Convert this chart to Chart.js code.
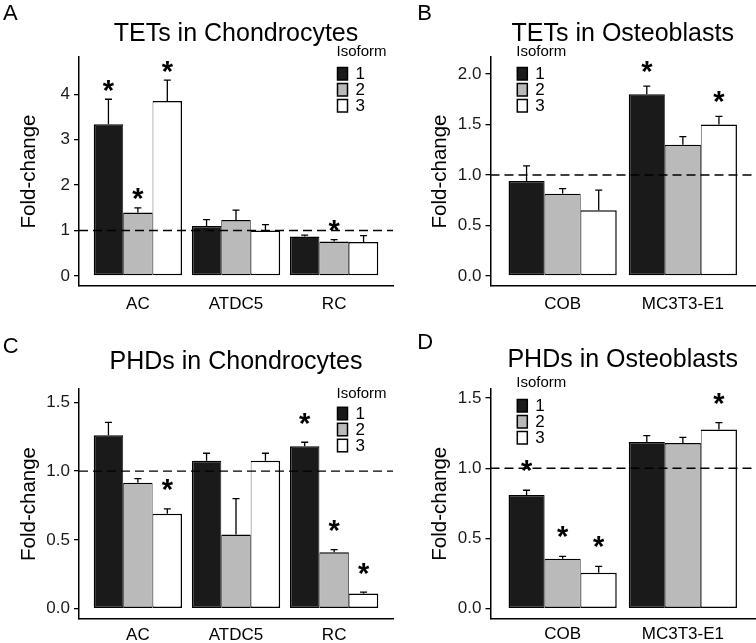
<!DOCTYPE html>
<html lang="en">
<head>
<meta charset="UTF-8">
<title>TETs and PHDs in chondrocytes and osteoblasts</title>
<script src="https://cdn.jsdelivr.net/npm/chart.js@4"></script>
<style>
  body { margin: 0; background: #fff; }
  .panel { position: absolute; }
  #pA { left: 0; top: 0; width: 400px; height: 320px; }
  #pB { left: 400px; top: 0; width: 356px; height: 320px; }
  #pC { left: 0; top: 320px; width: 400px; height: 323px; }
  #pD { left: 400px; top: 320px; width: 356px; height: 323px; }
</style>
</head>
<body>
<div class="panel" id="pA"><canvas id="cA"></canvas></div>
<div class="panel" id="pB"><canvas id="cB"></canvas></div>
<div class="panel" id="pC"><canvas id="cC"></canvas></div>
<div class="panel" id="pD"><canvas id="cD"></canvas></div>

<script>
// categories
const chondroCells = ['AC', 'ATDC5', 'RC'];
const osteoCells = ['COB', 'MC3T3-E1'];
const isoforms = ['1', '2', '3'];

// fold-change means, one row per isoform
const tetChondroMeans = [[3.34, 1.10, 0.87], [1.40, 1.23, 0.76], [3.85, 1.00, 0.75]];
const tetChondroSe    = [[0.55, 0.14, 0.03], [0.10, 0.22, 0.04], [0.46, 0.13, 0.14]];
const tetChondroStars = [[1, 0, 0], [1, 0, 1], [1, 0, 0]];

const tetOsteoMeans = [[0.94, 1.80], [0.815, 1.30], [0.65, 1.50]];
const tetOsteoSe    = [[0.15, 0.08], [0.05, 0.08], [0.20, 0.08]];
const tetOsteoStars = [[0, 1], [0, 0], [0, 1]];

const phdChondroMeans = [[1.26, 1.075, 1.18], [0.915, 0.54, 0.41], [0.69, 1.075, 0.11]];
const phdChondroSe    = [[0.095, 0.055, 0.03], [0.03, 0.26, 0.02], [0.035, 0.055, 0.01]];
const phdChondroStars = [[0, 0, 1], [0, 0, 1], [1, 0, 1]];

const phdOsteoMeans = [[0.81, 1.187], [0.356, 1.18], [0.256, 1.275]];
const phdOsteoSe    = [[0.033, 0.045], [0.017, 0.04], [0.045, 0.05]];
const phdOsteoStars = [[1, 0], [1, 0], [1, 1]];

// y axis ticks
const tetChondroYTicks = [0, 1, 2, 3, 4];
const tetChondroYLabels = ['0', '1', '2', '3', '4'];
const tetOsteoYTicks = [0, 0.5, 1, 1.5, 2];
const tetOsteoYLabels = ['0.0', '0.5', '1.0', '1.5', '2.0'];
const phdYTicks = [0, 0.5, 1, 1.5];
const phdYLabels = ['0.0', '0.5', '1.0', '1.5'];

const fills = ['#1a1a1a', '#bababa', '#ffffff'];
const sideBorders = [
  { top: 1.5, bottom: 1.5, left: 1.5, right: 0.75 },
  { top: 1.5, bottom: 1.5, left: 0.75, right: 0.75 },
  { top: 1.5, bottom: 1.5, left: 0.75, right: 1.5 }
];
const FONT = '"Liberation Sans", Arial, Helvetica, sans-serif';
Chart.defaults.font.family = FONT;
Chart.defaults.color = '#000';

function extras(p) {
  return {
    id: 'extras',
    afterDatasetsDraw(chart) {
      const ctx = chart.ctx;
      const y = chart.scales.y;
      const area = chart.chartArea;
      ctx.save();
      ctx.strokeStyle = '#000';
      ctx.lineWidth = 1.3;
      // upper error whiskers
      p.means.forEach((vals, d) => {
        const meta = chart.getDatasetMeta(d);
        vals.forEach((v, i) => {
          const x = meta.data[i].x;
          const y0 = y.getPixelForValue(v);
          const y1 = y.getPixelForValue(v + p.se[d][i]);
          ctx.beginPath();
          ctx.moveTo(x, y0);
          ctx.lineTo(x, y1);
          ctx.moveTo(x - 3.5, y1);
          ctx.lineTo(x + 3.5, y1);
          ctx.stroke();
        });
      });
      // dashed line at fold-change 1
      const yOne = y.getPixelForValue(1);
      ctx.lineWidth = 1.4;
      ctx.setLineDash([9, 5]);
      ctx.beginPath();
      ctx.moveTo(area.left, yOne);
      ctx.lineTo(area.right, yOne);
      ctx.stroke();
      ctx.setLineDash([]);
      // significance stars
      ctx.fillStyle = '#000';
      ctx.font = 'bold 29px ' + FONT;
      ctx.textAlign = 'center';
      ctx.textBaseline = 'alphabetic';
      const m = ctx.measureText('*');
      const shift = (m.actualBoundingBoxAscent - m.actualBoundingBoxDescent) / 2;
      p.stars.forEach((flags, d) => {
        const meta = chart.getDatasetMeta(d);
        flags.forEach((f, i) => {
          if (!f) return;
          const top = y.getPixelForValue(p.means[d][i] + p.se[d][i]);
          ctx.fillText('*', meta.data[i].x, top - p.starGap + shift);
        });
      });
      ctx.restore();
    },
    afterDraw(chart) {
      const ctx = chart.ctx;
      ctx.save();
      ctx.fillStyle = '#000';
      ctx.textAlign = 'left';
      ctx.textBaseline = 'alphabetic';
      ctx.font = '22px ' + FONT;
      ctx.fillText(p.letter, p.letterX, p.letterY);
      // legend
      ctx.textBaseline = 'middle';
      ctx.font = '15px ' + FONT;
      ctx.fillText('Isoform', p.legX - 1, p.legTitleY);
      ctx.lineWidth = 1.5;
      ctx.strokeStyle = '#000';
      isoforms.forEach((lab, d) => {
        const top = p.legTop + d * 16;
        ctx.fillStyle = fills[d];
        ctx.fillRect(p.legX, top, 10, 12.5);
        ctx.strokeRect(p.legX, top, 10, 12.5);
        ctx.fillStyle = '#000';
        ctx.font = '17px ' + FONT;
        ctx.fillText(lab, p.legX + 18, top + 7);
      });
      ctx.restore();
    }
  };
}

function panel(id, p) {
  return new Chart(document.getElementById(id), {
    type: 'bar',
    data: {
      datasets: p.means.map((vals, d) => ({
        label: isoforms[d],
        data: vals.map((v, i) => ({ x: i, y: v })),
        backgroundColor: fills[d],
        borderColor: '#000',
        borderWidth: sideBorders[d],
        borderSkipped: false,
        inflateAmount: 0,
        categoryPercentage: 0.9,
        barPercentage: 1
      }))
    },
    options: {
      responsive: true,
      maintainAspectRatio: false,
      animation: false,
      devicePixelRatio: 1,
      events: [],
      layout: { padding: { left: 0, right: p.padRight, top: 0, bottom: 0 } },
      plugins: {
        legend: { display: false },
        tooltip: { enabled: false },
        title: {
          display: true,
          text: p.title,
          fullSize: false,
          color: '#000',
          font: { size: 25, weight: 'normal' },
          padding: { top: p.titleTop, bottom: p.titleBottom }
        }
      },
      scales: {
        x: {
          type: 'linear',
          offset: false,
          min: -0.6,
          max: p.cats.length - 0.4,
          afterBuildTicks: s => { s.ticks = p.cats.map((c, i) => ({ value: i })); },
          afterFit: s => { s.height = p.xHeight; },
          ticks: {
            callback: (v, i) => p.cats[i],
            color: '#000',
            font: { size: 17 },
            padding: p.xPad,
            maxRotation: 0,
            autoSkip: false
          },
          grid: { display: false, drawTicks: false, offset: false },
          border: { display: true, color: '#000', width: 1.5 }
        },
        y: {
          min: p.yMin,
          max: p.yMax,
          afterBuildTicks: s => { s.ticks = p.yTicks.map(v => ({ value: v })); },
          afterFit: s => { s.width = p.yWidth; },
          ticks: {
            callback: (v, i) => p.yLabels[i],
            color: '#1a1a1a',
            font: { size: 17 },
            padding: 4
          },
          grid: { display: true, drawOnChartArea: false, drawTicks: true, tickLength: 5, color: '#000', lineWidth: 1.3 },
          border: { display: true, color: '#000', width: 1.5 },
          title: {
            display: true,
            text: 'Fold-change',
            color: '#000',
            font: { size: 20.5 },
            padding: { top: p.yTitlePad, bottom: 0 }
          }
        }
      }
    },
    plugins: [extras(p)]
  });
}

panel('cA', {
  cats: chondroCells, means: tetChondroMeans, se: tetChondroSe, stars: tetChondroStars,
  yTicks: tetChondroYTicks, yLabels: tetChondroYLabels, yMin: -0.22, yMax: 4.82,
  title: 'TETs in Chondrocytes', letter: 'A', letterX: 3, letterY: 20,
  yWidth: 79, padRight: 7, titleTop: 18.95, titleBottom: 8.05, xHeight: 34, xPad: 8.5, yTitlePad: 16.6,
  legX: 337.5, legTitleY: 51.7, legTop: 67.5, starGap: 13.5
});

panel('cB', {
  cats: osteoCells, means: tetOsteoMeans, se: tetOsteoSe, stars: tetOsteoStars,
  yTicks: tetOsteoYTicks, yLabels: tetOsteoYLabels, yMin: -0.099, yMax: 2.168,
  title: 'TETs in Osteoblasts', letter: 'B', letterX: 17.3, letterY: 20,
  yWidth: 90.5, padRight: 1, titleTop: 18.95, titleBottom: 8.05, xHeight: 34, xPad: 8, yTitlePad: 27.6,
  legX: 117.3, legTitleY: 51.7, legTop: 67.5, starGap: 19
});

panel('cC', {
  cats: chondroCells, means: phdChondroMeans, se: phdChondroSe, stars: phdChondroStars,
  yTicks: phdYTicks, yLabels: phdYLabels, yMin: -0.075, yMax: 1.597,
  title: 'PHDs in Chondrocytes', letter: 'C', letterX: 2.7, letterY: 32.7,
  yWidth: 79, padRight: 7, titleTop: 27.25, titleBottom: 11.75, xHeight: 24, xPad: 6, yTitlePad: 16.6,
  legX: 337.5, legTitleY: 74, legTop: 87.3, starGap: 23.5
});

panel('cD', {
  cats: osteoCells, means: phdOsteoMeans, se: phdOsteoSe, stars: phdOsteoStars,
  yTicks: phdYTicks, yLabels: phdYLabels, yMin: -0.07, yMax: 1.564,
  title: 'PHDs in Osteoblasts', letter: 'D', letterX: 17.3, letterY: 29.3,
  yWidth: 90.5, padRight: 1, titleTop: 25.55, titleBottom: 13.45, xHeight: 24.5, xPad: 6, yTitlePad: 27.6,
  legX: 117.3, legTitleY: 63, legTop: 79.5, starGap: 24
});
</script>
</body>
</html>
